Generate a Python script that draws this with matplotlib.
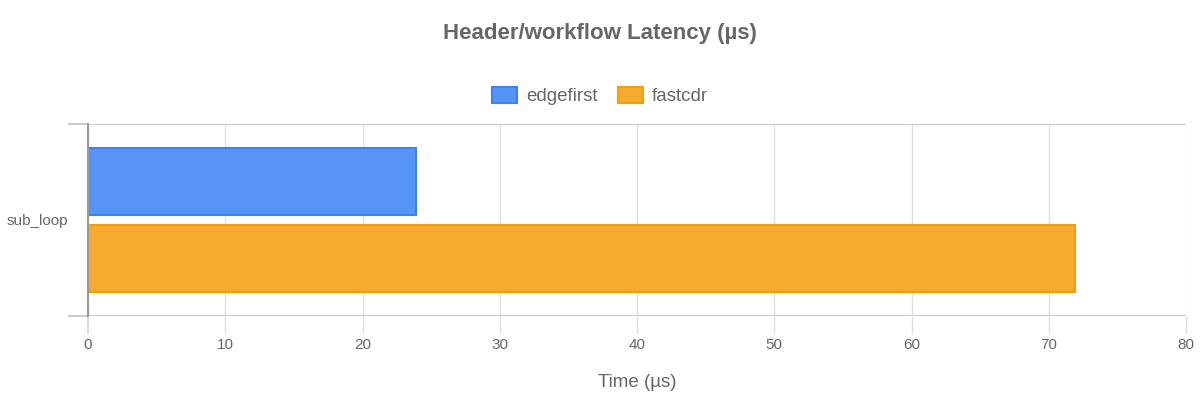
import numpy as np
import matplotlib.pyplot as plt
from matplotlib.patches import Patch

plt.rcParams['font.family'] = ['Liberation Sans', 'DejaVu Sans']

# Veriler
categories = ['sub_loop']
series_names = ['edgefirst', 'fastcdr']
edgefirst = [23.9]
fastcdr = [71.9]
x_ticks = [0, 10, 20, 30, 40, 50, 60, 70, 80]

fills = ['#5794f5', '#f5ab30']
edges = ['#3b82f6', '#f59e0b']
text_gray = '#666666'

fig = plt.figure(figsize=(12, 4), dpi=100)
ax = fig.add_axes([88 / 1200, 1 - 316 / 400, 1098 / 1200, 192 / 400])

y = np.arange(len(categories))
h = 0.345
ax.barh(y - h / 2 - 0.028, edgefirst, height=h, color=fills[0], edgecolor=edges[0],
        linewidth=1.5, zorder=3)
ax.barh(y + h / 2 + 0.028, fastcdr, height=h, color=fills[1], edgecolor=edges[1],
        linewidth=1.5, zorder=3)

ax.set_xlim(0, 80)
ax.set_ylim(0.5, -0.5)
ax.set_xticks(x_ticks)
ax.set_yticks(y)
ax.set_yticklabels(categories)
ax.set_yticks([-0.5, 0.5], minor=True)

ax.tick_params(axis='x', length=13, width=1, color='#e0e0e0', pad=3,
               labelsize=11, labelcolor=text_gray)
ax.xaxis.get_major_ticks()[0].tick1line.set_color('#bbbbbb')
ax.xaxis.get_major_ticks()[0].tick1line.set_markeredgewidth(1.5)
ax.tick_params(axis='y', which='major', length=0, pad=14, labelsize=11, labelcolor=text_gray)
ax.tick_params(axis='y', which='minor', length=14.4, width=1.5, color='#cccccc')

ax.grid(axis='x', color='#e0e0e0', linewidth=1, zorder=0)
ax.grid(axis='y', which='minor', color='#cccccc', linewidth=1.5, zorder=0)

for s in ['top', 'right', 'bottom']:
    ax.spines[s].set_visible(False)
ax.spines['left'].set_color('#999999')
ax.spines['left'].set_linewidth(1.5)
ax.spines['left'].set_zorder(4)

ax.set_xlabel('Time (µs)', fontsize=13.5, color=text_gray, labelpad=16)

fig.text(0.5, 1 - 33 / 400, 'Header/workflow Latency (µs)', ha='center', va='center',
         fontsize=16, fontweight='bold', color=text_gray)

handles = [Patch(facecolor=fills[i], edgecolor=edges[i], linewidth=1.5, label=series_names[i])
           for i in range(2)]
fig.legend(handles=handles, loc='center', bbox_to_anchor=(0.5, 1 - 96 / 400), ncol=2,
           frameon=False, fontsize=13.5, labelcolor=text_gray, handlelength=1.33,
           handleheight=0.96, columnspacing=1.07, handletextpad=0.5)

fig.savefig('out.png', dpi=100)
